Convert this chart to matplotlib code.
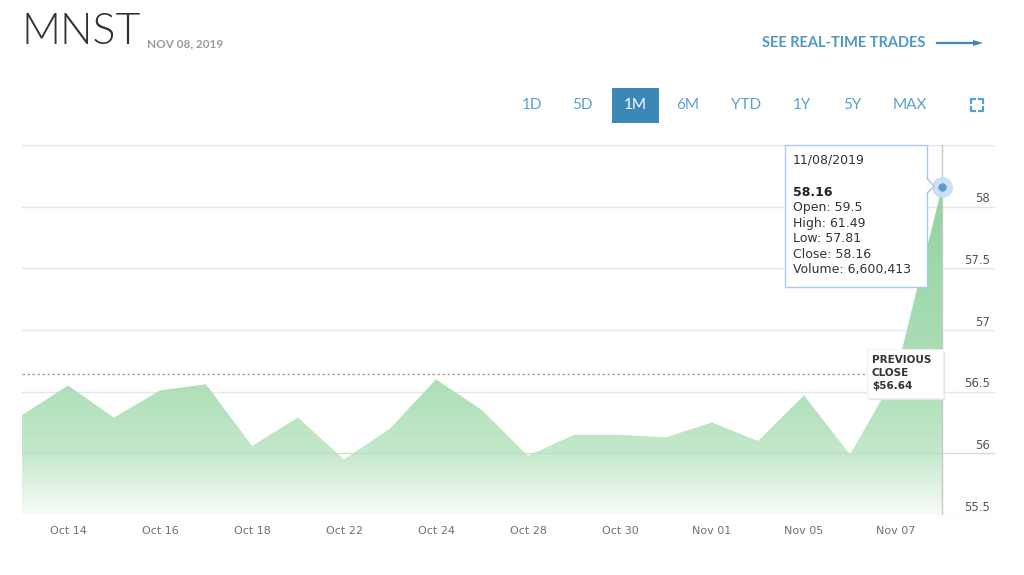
import matplotlib.pyplot as plt
import numpy as np
from matplotlib.patches import FancyBboxPatch, Polygon, Rectangle
from matplotlib.lines import Line2D
from matplotlib.transforms import blended_transform_factory

# Données : clôtures journalières MNST sur un mois
dates = ["Oct 11", "Oct 14", "Oct 15", "Oct 16", "Oct 17", "Oct 18", "Oct 21",
         "Oct 22", "Oct 23", "Oct 24", "Oct 25", "Oct 28", "Oct 29", "Oct 30",
         "Oct 31", "Nov 01", "Nov 04", "Nov 05", "Nov 06", "Nov 07", "Nov 08"]
closes = [56.31, 56.55, 56.29, 56.51, 56.56, 56.06, 56.29, 55.95, 56.20, 56.60,
          56.35, 55.98, 56.15, 56.15, 56.13, 56.25, 56.10, 56.47, 55.99, 56.64, 58.16]
tick_idx = [1, 3, 5, 7, 9, 11, 13, 15, 17, 19]
y_ticks = [55.5, 56, 56.5, 57, 57.5, 58, 58.5]
y_labels = ["55.5", "56", "56.5", "57", "57.5", "58"]
prev_close = 56.64
ranges = ["1D", "5D", "1M", "6M", "YTD", "1Y", "5Y", "MAX"]
range_x = [532, 582, 635, 688, 746, 802, 852, 910]
tooltip_lines = ["Open: 59.5", "High: 61.49", "Low: 57.81", "Close: 58.16", "Volume: 6,600,413"]

W, H = 1024, 575
fig = plt.figure(figsize=(W / 100, H / 100), dpi=100)
fig.patch.set_facecolor('white')


def px(x, y):
    # pixels (origine en haut à gauche) -> fraction de figure
    return x / W, 1 - y / H


ax = fig.add_axes([22 / W, 1 - 515 / H, (995 - 22) / W, (515 - 145) / H])
x = np.arange(len(closes))
ax.set_xlim(0, 20 + 53 / 46)
ax.set_ylim(55.5, 58.5)
for s in ax.spines.values():
    s.set_visible(False)

# grille horizontale
for yv in y_ticks:
    ax.axhline(yv, color='#e3e6ea', lw=1, zorder=1)

# remplissage en dégradé vert
poly = ax.fill_between(x, closes, 55.5, facecolor='none', edgecolor='none')
yy = np.linspace(55.5, 58.5, 300)
stops_y = [55.5, 55.75, 56.0, 56.5, 58.5]
stops_c = np.array([[248, 251, 248], [222, 242, 226], [196, 232, 203],
                    [176, 224, 186], [140, 208, 155]]) / 255
grad = np.stack([np.interp(yy, stops_y, stops_c[:, k]) for k in range(3)], axis=-1)
im = ax.imshow(grad[:, None, :], extent=[0, 20, 55.5, 58.5], origin='lower',
               aspect='auto', zorder=2)
im.set_clip_path(poly.get_paths()[0], transform=ax.transData)
ax.axhline(56, color='#b9d6bf', lw=0.8, zorder=2.5, alpha=0.5)

# ligne de clôture précédente
ax.plot([0, 18.8], [prev_close, prev_close], color='#9a9a9a', lw=0.9,
        ls=(0, (2, 2)), zorder=3)

# curseur vertical et point survolé
ax.axvline(20, color='#c8c8c8', lw=1, zorder=3)
ax.plot([20], [closes[-1]], 'o', ms=14, color='#c9def2', alpha=0.9, zorder=4)
ax.plot([20], [closes[-1]], 'o', ms=5, color='#5b9bd5', zorder=5)

# axes
ax.set_xticks(tick_idx)
ax.set_xticklabels([dates[i] for i in tick_idx], fontsize=8, color='#707070')
ax.tick_params(axis='x', length=0, pad=8)
ax.set_yticks([])
tr = blended_transform_factory(ax.transAxes, ax.transData)
for v, lab in zip(y_ticks, y_labels):
    ax.text(0.9945, v + 0.01, lab, transform=tr, ha='right', va='bottom',
            fontsize=8.5, color='#555555')

# infobulle
tip = FancyBboxPatch(px(785, 287), 142 / W, 142 / H, boxstyle='square,pad=0',
                     transform=fig.transFigure, facecolor='white',
                     edgecolor='#a9c9e6', lw=1, zorder=10)
fig.add_artist(tip)
arrow = Polygon([px(926.5, 178), px(934, 186), px(926.5, 194)], closed=False,
                transform=fig.transFigure, facecolor='white', edgecolor='#a9c9e6',
                lw=1, zorder=11)
fig.add_artist(arrow)
fig.text(*px(793, 160), "11/08/2019", fontsize=9, color='#333333', va='center', zorder=12)
fig.text(*px(793, 192), f"{closes[-1]:.2f}", fontsize=9, color='#222222',
         fontweight='bold', va='center', zorder=12)
for k, line in enumerate(tooltip_lines):
    fig.text(*px(793, 207.5 + 15.5 * k), line, fontsize=9, color='#333333',
             va='center', zorder=12)

# étiquette clôture précédente
shadow = Rectangle(px(869, 400), 76 / W, 49 / H, transform=fig.transFigure,
                   facecolor='#e6e6e6', edgecolor='none', zorder=10)
fig.add_artist(shadow)
pc = Rectangle(px(867, 398), 76 / W, 49 / H, transform=fig.transFigure,
               facecolor='white', edgecolor='#eeeeee', lw=0.6, zorder=11)
fig.add_artist(pc)
for k, line in enumerate(["PREVIOUS", "CLOSE", f"${prev_close:.2f}"]):
    fig.text(*px(872, 360 + 13 * k), line, fontsize=7.5, color='#333333',
             fontweight='bold', family='DejaVu Sans', va='center', zorder=12)

# en-tête
fig.text(*px(21, 33), "MNST", fontsize=31, color='#333333', family='Lato',
         fontweight=300, va='center')
fig.text(*px(147, 44), "NOV 08, 2019", fontsize=8.5, color='#9a9a9a', family='Lato',
         fontweight='bold', va='center')
fig.text(*px(925, 43), "SEE REAL-TIME TRADES", fontsize=10.5, color='#5197c3',
         family='Lato', fontweight='bold', ha='right', va='center')
fig.add_artist(Line2D([937 / W, 975 / W], [1 - 43 / H] * 2, color='#3f88ba', lw=1.6))
fig.add_artist(Polygon([px(973, 40), px(983, 43), px(973, 46)], closed=True,
                       transform=fig.transFigure, facecolor='#3f88ba', edgecolor='none'))

# boutons de période
sel = Rectangle(px(612, 123), 47 / W, 35 / H, transform=fig.transFigure,
                facecolor='#3a87b8', edgecolor='none')
fig.add_artist(sel)
for lab, bx in zip(ranges, range_x):
    fig.text(*px(bx, 105), lab, fontsize=11, family='Lato', ha='center', va='center',
             color='white' if lab == "1M" else '#5aa0cc')

# icône plein écran
c = '#5aa0cc'
for (x0, y0, dx, dy) in [(971, 99, 1, 1), (983, 99, -1, 1), (971, 111, 1, -1), (983, 111, -1, -1)]:
    fig.add_artist(Line2D([x0 / W, x0 / W, (x0 + 4 * dx) / W],
                          [1 - (y0 + 4 * dy) / H, 1 - y0 / H, 1 - y0 / H],
                          color=c, lw=1.6))

fig.savefig('out.png', dpi=100)
